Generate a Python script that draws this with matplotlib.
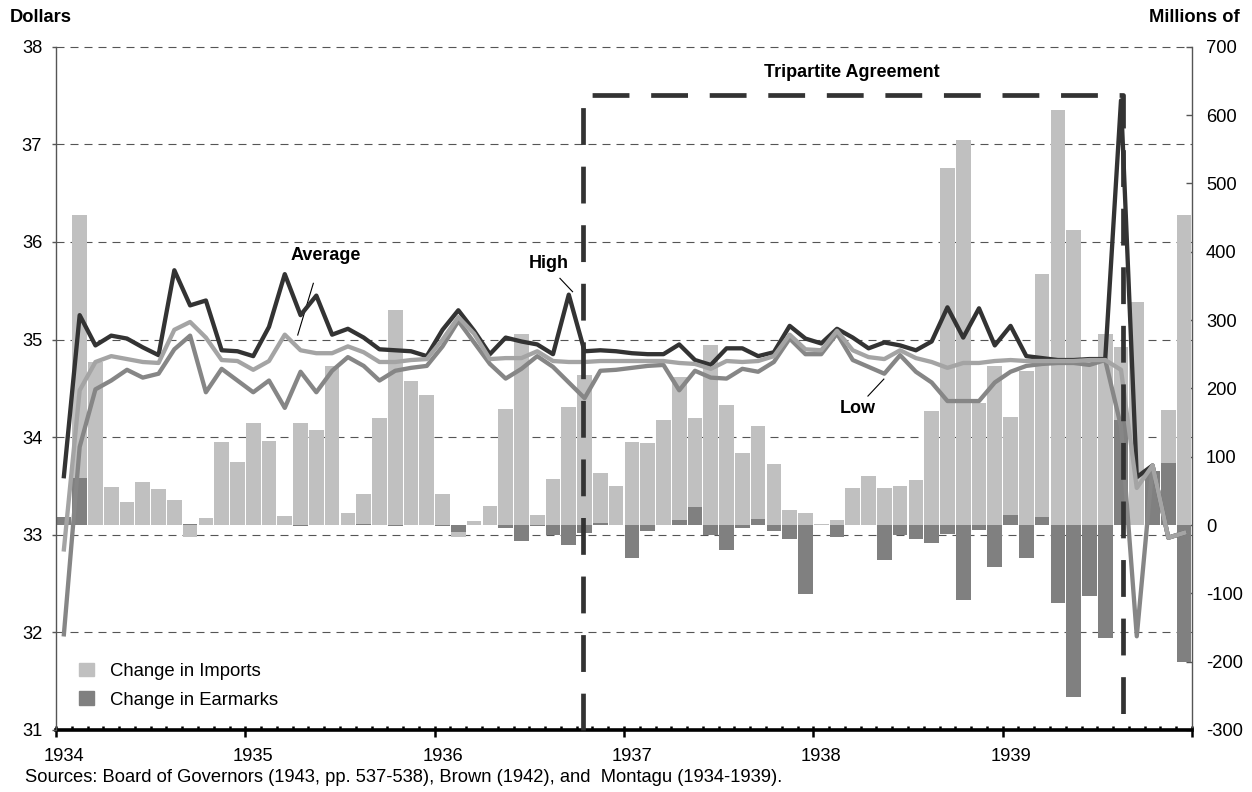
import matplotlib
matplotlib.use('Agg')
import matplotlib.pyplot as plt
import numpy as np
from matplotlib.transforms import blended_transform_factory
from matplotlib.patches import Patch

plt.rcParams['font.family'] = ['Liberation Sans', 'DejaVu Sans']
plt.rcParams['axes.unicode_minus'] = False

# ---------------- data (monthly, Jan 1934 .. Dec 1939) ----------------
years = ['1934', '1935', '1936', '1937', '1938', '1939']

high = [33.60, 35.25, 34.94, 35.04, 35.01, 34.92, 34.84, 35.71, 35.35, 35.40, 34.89, 34.88,
        34.83, 35.13, 35.67, 35.25, 35.45, 35.05, 35.11, 35.02, 34.90, 34.89, 34.88, 34.83,
        35.10, 35.30, 35.09, 34.85, 35.02, 34.98, 34.95, 34.85, 35.46, 34.88, 34.89, 34.88,
        34.86, 34.85, 34.85, 34.95, 34.79, 34.74, 34.91, 34.91, 34.83, 34.87, 35.14, 35.01,
        34.96, 35.11, 35.02, 34.91, 34.97, 34.94, 34.89, 34.98, 35.33, 35.02, 35.32, 34.94,
        35.14, 34.83, 34.81, 34.79, 34.79, 34.80, 34.80, 37.45, 33.59, 33.71, 32.97, 33.02]

average = [32.85, 34.48, 34.77, 34.83, 34.80, 34.77, 34.76, 35.10, 35.18, 35.02, 34.79, 34.78,
           34.69, 34.78, 35.05, 34.89, 34.86, 34.86, 34.93, 34.87, 34.77, 34.77, 34.79, 34.80,
           35.00, 35.23, 35.06, 34.80, 34.81, 34.81, 34.88, 34.78, 34.77, 34.77, 34.78, 34.78,
           34.78, 34.78, 34.78, 34.76, 34.75, 34.70, 34.78, 34.77, 34.78, 34.83, 35.05, 34.90,
           34.89, 35.09, 34.89, 34.82, 34.80, 34.89, 34.81, 34.77, 34.71, 34.76, 34.76, 34.78,
           34.79, 34.78, 34.78, 34.78, 34.78, 34.79, 34.79, 34.69, 33.48, 33.71, 32.97, 33.02]

low = [31.98, 33.90, 34.49, 34.58, 34.69, 34.61, 34.65, 34.90, 35.04, 34.46, 34.70, 34.58,
       34.46, 34.58, 34.30, 34.67, 34.46, 34.68, 34.82, 34.73, 34.58, 34.68, 34.71, 34.73,
       34.93, 35.19, 34.97, 34.75, 34.60, 34.70, 34.83, 34.72, 34.56, 34.40, 34.68, 34.69,
       34.71, 34.73, 34.74, 34.48, 34.68, 34.61, 34.60, 34.70, 34.67, 34.77, 35.01, 34.85,
       34.85, 35.06, 34.79, 34.72, 34.65, 34.84, 34.67, 34.56, 34.37, 34.37, 34.37, 34.56,
       34.67, 34.73, 34.75, 34.76, 34.76, 34.74, 34.79, 34.11, 31.96, 33.71, 32.97, 33.02]

imports = [0, 454, 238, 55, 34, 63, 52, 37, -18, 10, 122, 92,
           150, 123, 13, 150, 139, 232, 17, 45, 157, 315, 211, 190,
           45, -17, 6, 28, 170, 279, 15, 67, 172, 220, 76, 57,
           122, 120, 154, 216, 156, 263, 176, 105, 145, 90, 22, 18,
           1, 8, 54, 72, 54, 57, 66, 167, 522, 564, 178, 232,
           158, 226, 367, 607, 432, 240, 279, 261, 327, 30, 169, 454]

earmarks = [11, 69, 0, 0, 0, 0, 0, 0, 2, 0, 0, 0,
            0, 0, 0, -2, 0, 0, 0, 2, 0, -2, 0, 0,
            -2, -10, 0, 0, -4, -24, -2, -14, -29, -11, 3, 0,
            -49, -9, 0, 7, 26, -15, -37, -5, 9, -9, -20, -101,
            0, -17, 0, 0, -51, -14, -20, -27, -13, -110, -7, -62,
            14, -48, 11, -114, -252, -104, -165, 153, 0, 79, 91, -200]

# Tripartite Agreement window (in month units from Jan 1934) and box top (dollars)
tripartite_start = 33.4
tripartite_end = 67.6
tripartite_top = 37.51

n = len(high)
x = np.arange(n) + 0.5

# ---------------- figure ----------------
fig = plt.figure(figsize=(12.52, 7.92), dpi=100)
L, R, T, B = 56, 1192, 46.7, 730
W, H = 1252, 792
axb = fig.add_axes([L / W, 1 - B / H, (R - L) / W, (B - T) / H])
axl = axb.twinx()

axb.set_xlim(0, n)
axb.set_ylim(-300, 700)
axl.set_ylim(31, 38)

# grid from the dollar scale, drawn behind bars
gtrans = blended_transform_factory(axb.transAxes, axl.transData)
for v in range(32, 39):
    axb.plot([0, 1], [v, v], transform=gtrans, color='#555555', lw=0.8,
             ls=(0, (7.2, 5.4)), zorder=1, clip_on=False)

# bars (right scale)
axb.bar(x, imports, width=0.93, color='#c0c0c0', zorder=2)
axb.bar(x, earmarks, width=0.93, color='#808080', zorder=3)

# lines (left scale)
lw_line = 3.1
axl.plot(x, high, color='#333333', lw=lw_line, zorder=3)
axl.plot(x, low, color='#868686', lw=lw_line, zorder=3)
axl.plot(x, average, color='#a4a4a4', lw=lw_line, zorder=3)

# Tripartite Agreement box
axl.plot([tripartite_start, tripartite_start, tripartite_end, tripartite_end],
         [31, tripartite_top, tripartite_top, 31],
         color='#333333', lw=3.4, dashes=(7.8, 4.6), zorder=5, clip_on=False)

# annotations
bold = dict(fontsize=13, fontweight='bold', ha='center', va='center')
axl.text(17.11, 35.856, 'Average', **bold)
axl.plot([16.31, 15.32], [35.576, 35.046], color='black', lw=0.8)
axl.text(31.24, 35.783, 'High', **bold)
axl.plot([31.94, 32.74], [35.627, 35.490], color='black', lw=0.8)
axl.text(50.82, 34.29, 'Low', **bold)
axl.plot([51.46, 52.47], [34.421, 34.595], color='black', lw=0.8)
axl.text(50.44, 37.74, 'Tripartite Agreement', **bold)

# ---------------- axes styling ----------------
fs = 13.2
axb.yaxis.tick_right()
axb.yaxis.set_label_position('right')
axl.yaxis.tick_left()
axl.yaxis.set_label_position('left')

axb.set_yticks(np.arange(-300, 701, 100))
axb.tick_params(axis='y', direction='in', length=4.5, width=1, color='#555555',
                labelsize=fs, pad=10)
axl.set_yticks(np.arange(31, 39, 1))
axl.tick_params(axis='y', direction='out', length=3, width=1, color='#555555',
                labelsize=fs, pad=7)

# year labels under January, month ticks, year ticks
axb.set_xticks(np.arange(0, n, 12) + 0.5, labels=years)
axb.tick_params(axis='x', which='major', length=0, labelsize=fs, pad=13)
axb.set_xticks(np.arange(0, n + 1, 1), minor=True)
axb.tick_params(axis='x', which='minor', direction='in', length=3, width=1.8, color='black')
sec = axb.secondary_xaxis('bottom')
sec.set_xticks(np.arange(0, n + 1, 12), labels=[''] * 7)
sec.tick_params(axis='x', direction='out', length=5, width=1.8, color='black')
sec.spines['bottom'].set_visible(False)

for s in ['top', 'left']:
    axb.spines[s].set_visible(False)
axb.spines['right'].set_color('#555555')
axb.spines['right'].set_linewidth(1)
axb.spines['bottom'].set_color('black')
axb.spines['bottom'].set_linewidth(2.6)
for s in ['top', 'right', 'bottom']:
    axl.spines[s].set_visible(False)
axl.spines['left'].set_color('#555555')
axl.spines['left'].set_linewidth(1)

# legend
handles = [Patch(color='#c0c0c0'), Patch(color='#808080')]
fig.legend(handles, ['Change in Imports', 'Change in Earmarks'],
           loc='upper left', bbox_to_anchor=(79 / W, 1 - 663 / H),
           bbox_transform=fig.transFigure, frameon=False, fontsize=13.3,
           borderpad=0, borderaxespad=0, handlelength=0.83, handleheight=0.72,
           handletextpad=0.83, labelspacing=0.62)

# titles and source
fig.text(10 / W, 1 - 18 / H, 'Dollars', fontsize=13.2, fontweight='bold', ha='left', va='center')
fig.text(1240 / W, 1 - 18 / H, 'Millions of', fontsize=13.2, fontweight='bold', ha='right', va='center')
fig.text(25 / W, 1 - 778 / H,
         'Sources: Board of Governors (1943, pp. 537-538), Brown (1942), and  Montagu (1934-1939).',
         fontsize=fs, ha='left', va='center')

fig.savefig('out.png', dpi=100)
